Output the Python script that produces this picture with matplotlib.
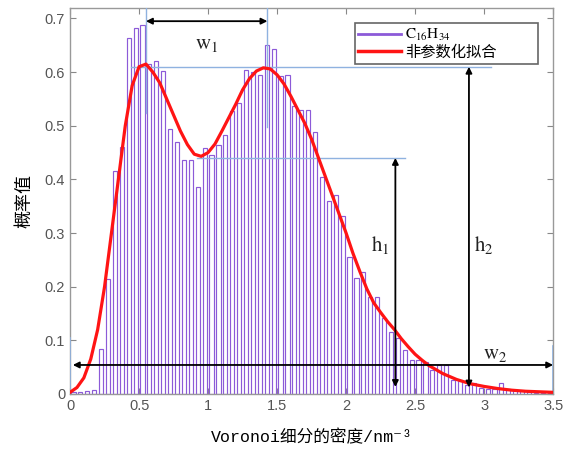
import matplotlib
matplotlib.use("Agg")
import matplotlib.pyplot as plt
from matplotlib.lines import Line2D

plt.rcParams['font.family'] = ['Liberation Sans', 'Noto Sans CJK SC', 'DejaVu Sans']
plt.rcParams['mathtext.fontset'] = 'stix'

# histogram: bin left edges (width 0.05) and probability values
bin_left = [i * 0.05 for i in range(70)]
bin_height = [0.003, 0.003, 0.005, 0.008, 0.084, 0.215, 0.415, 0.461, 0.663, 0.682,
              0.688, 0.615, 0.621, 0.603, 0.494, 0.469, 0.437, 0.437, 0.386, 0.458,
              0.445, 0.464, 0.482, 0.527, 0.543, 0.604, 0.600, 0.594, 0.650, 0.643,
              0.592, 0.595, 0.536, 0.530, 0.530, 0.489, 0.405, 0.359, 0.371, 0.331,
              0.256, 0.216, 0.228, 0.181, 0.180, 0.141, 0.116, 0.104, 0.082, 0.063,
              0.063, 0.060, 0.045, 0.054, 0.054, 0.026, 0.024, 0.017, 0.020, 0.011,
              0.010, 0.010, 0.020, 0.010, 0.008, 0.006, 0.004, 0.002, 0.001, 0.001]

# non-parametric fit curve
fit_x = [0.0, 0.05, 0.10, 0.15, 0.20, 0.25, 0.30, 0.35, 0.40, 0.45, 0.50, 0.55,
         0.60, 0.65, 0.70, 0.75, 0.80, 0.85, 0.90, 0.95, 1.00, 1.05, 1.10, 1.15,
         1.20, 1.25, 1.30, 1.35, 1.40, 1.45, 1.50, 1.55, 1.60, 1.65, 1.70, 1.75,
         1.80, 1.85, 1.90, 1.95, 2.00, 2.05, 2.10, 2.15, 2.20, 2.25, 2.30, 2.35,
         2.40, 2.45, 2.50, 2.55, 2.60, 2.70, 2.80, 2.90, 3.00, 3.10, 3.20, 3.30,
         3.40, 3.50]
fit_y = [0.003, 0.012, 0.030, 0.065, 0.120, 0.200, 0.300, 0.400, 0.500, 0.575, 0.610, 0.615,
         0.600, 0.580, 0.550, 0.520, 0.490, 0.465, 0.447, 0.443, 0.450, 0.466, 0.490, 0.515,
         0.540, 0.567, 0.588, 0.602, 0.608, 0.606, 0.595, 0.578, 0.555, 0.530, 0.505, 0.475,
         0.440, 0.405, 0.370, 0.335, 0.300, 0.262, 0.228, 0.196, 0.170, 0.152, 0.135, 0.120,
         0.103, 0.088, 0.074, 0.063, 0.053, 0.038, 0.027, 0.019, 0.014, 0.010, 0.007, 0.005,
         0.004, 0.003]

# annotation positions (x = peak locations, y = levels)
peak1_x, peak2_x = 0.55, 1.43
peak_level, valley_level = 0.61, 0.44
h1_x, h2_x = 2.357, 2.89
w2_level = 0.054

purple = '#8c5ad8'
red = '#ff1414'
blue = '#8fb2e0'

fig = plt.figure(figsize=(5.65, 4.57), dpi=100)
ax = fig.add_axes([0.124, 0.138, 0.855, 0.845])

centers = [b + 0.025 for b in bin_left]
ax.bar(centers, bin_height, width=0.03, facecolor='white', edgecolor=purple,
       linewidth=0.85, zorder=2)
ax.plot(fit_x, fit_y, color=red, lw=2.3, zorder=4)

# guide lines
ax.plot([peak1_x, peak1_x], [0.524, 0.72], color=blue, lw=1, zorder=3)
ax.plot([peak2_x, peak2_x], [0.498, 0.72], color=blue, lw=1, zorder=3)
ax.plot([0.445, 3.05], [peak_level, peak_level], color=blue, lw=1, zorder=3)
ax.plot([0.92, 2.43], [valley_level, valley_level], color=blue, lw=1, zorder=3)
ax.plot([0.003, 0.003], [0, 0.105], color=blue, lw=1.2, zorder=3)
ax.plot([3.497, 3.497], [0, 0.09], color=blue, lw=1.2, zorder=3)

arrow = dict(arrowstyle='<|-|>', color='black', lw=1.3, mutation_scale=9, shrinkA=0, shrinkB=0)
ax.annotate('', xy=(peak1_x, 0.695), xytext=(peak2_x, 0.695), arrowprops=arrow, zorder=5)
ax.annotate('', xy=(h1_x, 0.013), xytext=(h1_x, valley_level), arrowprops=arrow, zorder=5)
ax.annotate('', xy=(h2_x, 0.012), xytext=(h2_x, peak_level), arrowprops=arrow, zorder=5)
ax.annotate('', xy=(0.02, w2_level), xytext=(3.5, w2_level), arrowprops=arrow, zorder=5)

lab = dict(fontsize=15, ha='center', va='center', color='#222222')
ax.text(0.99, 0.651, r'$\mathrm{w_1}$', **lab)
ax.text(2.25, 0.278, r'$\mathrm{h_1}$', **lab)
ax.text(3.0, 0.278, r'$\mathrm{h_2}$', **lab)
ax.text(3.08, 0.074, r'$\mathrm{w_2}$', **lab)

ax.set_xlim(0, 3.5)
ax.set_ylim(0, 0.72)
ax.set_xticks([0, 0.5, 1, 1.5, 2, 2.5, 3, 3.5])
ax.set_xticklabels(['0', '0.5', '1', '1.5', '2', '2.5', '3', '3.5'])
ax.set_yticks([0, 0.1, 0.2, 0.3, 0.4, 0.5, 0.6, 0.7])
ax.set_yticklabels(['0', '0.1', '0.2', '0.3', '0.4', '0.5', '0.6', '0.7'])
ax.tick_params(direction='in', top=True, right=True, length=4, color='#888888',
               labelcolor='#555555', labelsize=10.5)
for s in ax.spines.values():
    s.set_color('#999999')
    s.set_linewidth(1)

ax.set_xlabel('Voronoi细分的密度/nm⁻³', fontsize=12,
              family=['Liberation Mono', 'Noto Sans CJK SC', 'DejaVu Sans'], labelpad=12)
ax.set_ylabel('概率值', fontsize=13, family=['Noto Sans CJK SC'], labelpad=8)

# legend with line handles, box stretched like the original
handles = [Line2D([], [], color=purple, lw=2), Line2D([], [], color=red, lw=2.5)]
leg = ax.legend(handles, [r'$\mathrm{C_{16}H_{34}}$', '非参数化拟合'], loc='upper left',
                bbox_to_anchor=(0.59, 0.86, 0.379, 0.101), mode='expand',
                frameon=True, fancybox=False,
                edgecolor='#666666', handlelength=2.8, borderpad=0.2, labelspacing=0.05,
                handletextpad=0.3, borderaxespad=0,
                prop={'family': ['Noto Sans CJK SC'], 'size': 11})
leg.get_frame().set_linewidth(1.2)
leg.get_frame().set_alpha(1)

fig.savefig('out.png', dpi=100)
